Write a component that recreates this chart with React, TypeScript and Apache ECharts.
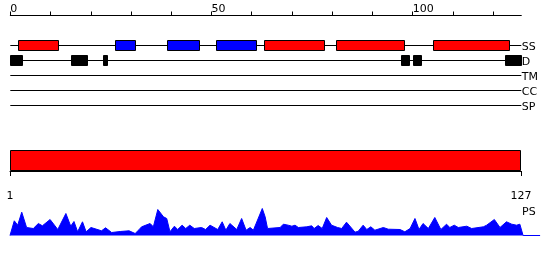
import React, { useEffect, useRef } from 'react';
import * as echarts from 'echarts';

const seqLength = 127;
const topTickValues = [0, 10, 20, 30, 40, 50, 60, 70, 80, 90, 100, 110, 120];
const topLabelValues = [0, 50, 100];
const bottomTickValues = [1, 127];
const trackNames = ['SS', 'D', 'TM', 'CC', 'SP'];

// secondary structure: [start, end]
const helixSegments = [[2, 12], [63, 78], [81, 98], [105, 124]];
const strandSegments = [[26, 31], [39, 47], [51, 61]];
// disorder: [start, end]
const disorderSegments = [[0, 3], [15, 19], [23, 24], [97, 99], [100, 102], [123, 127]];
// domain: [start, end]
const domainSegments = [[1, 127]];

// PS profile (residue position, value)
const psPositions = [
  1.0, 2.06, 2.9, 3.9, 5.1, 6.75, 8.0, 9.0, 10.9, 12.8, 14.8, 16.0, 16.8, 17.7, 18.9, 19.8, 21.0,
  23.6, 24.6, 26.1, 28.2, 30.4, 31.9, 32.9, 33.5, 35.6, 36.4, 37.5, 38.9, 39.7, 40.5, 41.6, 42.4,
  43.5, 44.4, 45.4, 46.5, 48.3, 49.3, 50.4, 52.3, 53.4, 54.3, 55.3, 57.0, 58.2, 59.3, 60.3, 61.1,
  63.3, 64.0, 64.6, 67.7, 68.5, 69.7, 70.6, 71.4, 72.2, 74.3, 75.5, 76.1, 77.1, 78.1, 79.2, 80.4,
  81.9, 82.9, 84.1, 86.2, 87.0, 88.2, 89.1, 90.1, 91.1, 93.2, 94.4, 97.3, 98.5, 99.8, 101.0, 102.0,
  103.0, 104.3, 105.9, 107.4, 108.8, 109.6, 110.7, 111.7, 113.8, 115.0, 117.9, 118.7, 120.6, 122.0,
  123.6, 124.9, 126.1, 126.9, 127.7, 131.9,
];
const psValues = [
  0, 14.7, 10.3, 23.3, 8, 7, 12, 9.7, 16, 6, 22, 9.3, 14, 3.7, 13.7, 3.7, 8,
  4.7, 7.7, 3, 4, 4.7, 2, 6, 8.7, 12, 8.7, 26, 18.7, 17, 3.7, 9.3, 6,
  10.3, 7, 10.3, 7, 8, 6, 10.3, 6, 13.7, 5.3, 12, 6, 17, 5.3, 8, 5.3,
  27, 18.7, 7, 8, 11.3, 10.3, 9.3, 10.3, 8, 8.7, 9.7, 7, 10, 7, 18, 10.3,
  8, 7, 13.3, 3.3, 4.3, 10.3, 6, 8.7, 5.3, 8, 6.3, 6, 3.7, 7, 17, 6,
  12, 7, 18, 6, 11.3, 8, 10.3, 8, 9.3, 7, 8.7, 10.3, 16, 8,
  13.7, 11.3, 10.3, 11.3, 0, 0,
];

const FONT = 'DejaVu Sans';
const RED = '#ff0000';
const BLUE = '#0000ff';

export default function App() {
  const ref = useRef<HTMLDivElement>(null);

  useEffect(() => {
    document.body.style.margin = '0';
    if (!ref.current) return;
    const chart = echarts.init(ref.current, null, { renderer: 'svg' });

    const boxH = 10;

    const segRender = (fill: string) => (params: any, api: any) => {
      const track = api.value(0);
      const s = api.value(1);
      const e = api.value(2);
      const p0 = api.coord([s, track]);
      const p1 = api.coord([e, track]);
      return {
        type: 'rect',
        shape: { x: Math.round(p0[0]) + 0.5, y: Math.round(p0[1]) - boxH / 2 - 0.5, width: Math.round(p1[0] - p0[0]), height: boxH },
        style: { fill, stroke: '#000', lineWidth: 1 },
      };
    };

    const option: any = {
      animation: false,
      textStyle: { fontFamily: FONT },
      grid: [
        { left: 10.3, width: 511, top: 38, height: 75 },
        { left: 10, width: 511, top: 150, height: 21 },
        { left: 10, width: 530.5, top: 205.5, height: 30 },
      ],
      xAxis: [
        {
          gridIndex: 0,
          type: 'value',
          position: 'top',
          offset: 22.5,
          min: 0,
          max: seqLength,
          splitLine: { show: false },
          axisLine: { show: true, lineStyle: { color: '#000', width: 1 } },
          axisTick: { show: true, length: 4, customValues: topTickValues, lineStyle: { color: '#000' } },
          axisLabel: {
            customValues: topLabelValues,
            align: 'left',
            margin: 2,
            fontSize: 11,
            color: '#000',
            fontFamily: FONT,
          },
        },
        {
          gridIndex: 1,
          type: 'value',
          position: 'bottom',
          offset: 9.5,
          min: 1,
          max: seqLength,
          splitLine: { show: false },
          axisLine: { show: true, lineStyle: { color: '#000', width: 1 } },
          axisTick: { show: true, length: 5, customValues: bottomTickValues, lineStyle: { color: '#000' } },
          axisLabel: {
            customValues: bottomTickValues,
            margin: 9,
            fontSize: 11,
            color: '#000',
            fontFamily: FONT,
          },
        },
        {
          gridIndex: 2,
          type: 'value',
          min: 1,
          max: 132,
          show: false,
        },
      ],
      yAxis: [
        { gridIndex: 0, type: 'category', data: trackNames, inverse: true, show: false },
        { gridIndex: 1, type: 'value', min: 0, max: 1, show: false },
        { gridIndex: 2, type: 'value', min: 0, max: 30, show: false },
      ],
      graphic: [
        {
          type: 'text',
          left: 522,
          top: 206,
          style: { text: 'PS', fontSize: 11, fontFamily: FONT, fill: '#000' },
        },
      ],
      series: [
        {
          type: 'custom',
          xAxisIndex: 0,
          yAxisIndex: 0,
          data: trackNames.map((_, i) => [i, 0, seqLength]),
          encode: { x: [1, 2], y: 0 },
          renderItem: (params: any, api: any) => {
            const i = api.value(0);
            const p0 = api.coord([api.value(1), i]);
            const p1 = api.coord([api.value(2), i]);
            const y = Math.round(p0[1]) - 0.5;
            return {
              type: 'group',
              children: [
                {
                  type: 'line',
                  shape: { x1: p0[0], y1: y, x2: p1[0], y2: y },
                  style: { stroke: '#000', lineWidth: 1 },
                },
                {
                  type: 'text',
                  x: p1[0] + 0.5,
                  y: y + 0.5,
                  style: {
                    text: trackNames[i],
                    fontSize: 11,
                    fontFamily: FONT,
                    fill: '#000',
                    align: 'left',
                    verticalAlign: 'middle',
                  },
                },
              ],
            };
          },
        },
        {
          type: 'custom',
          xAxisIndex: 0,
          yAxisIndex: 0,
          data: helixSegments.map((s) => [0, s[0], s[1]]),
          encode: { x: [1, 2], y: 0 },
          renderItem: segRender(RED),
        },
        {
          type: 'custom',
          xAxisIndex: 0,
          yAxisIndex: 0,
          data: strandSegments.map((s) => [0, s[0], s[1]]),
          encode: { x: [1, 2], y: 0 },
          renderItem: segRender(BLUE),
        },
        {
          type: 'custom',
          xAxisIndex: 0,
          yAxisIndex: 0,
          data: disorderSegments.map((s) => [1, s[0], s[1]]),
          encode: { x: [1, 2], y: 0 },
          renderItem: segRender('#000'),
        },
        {
          type: 'custom',
          xAxisIndex: 1,
          yAxisIndex: 1,
          data: domainSegments.map((s) => [s[0], s[1]]),
          encode: { x: [0, 1] },
          renderItem: (params: any, api: any) => {
            const p0 = api.coord([api.value(0), 1]);
            const p1 = api.coord([api.value(1), 0]);
            return {
              type: 'rect',
              shape: {
                x: Math.round(p0[0]) + 0.5,
                y: Math.round(p0[1]) + 0.5,
                width: Math.round(p1[0] - p0[0]) - 1,
                height: Math.round(p1[1] - p0[1]) - 1,
              },
              style: { fill: RED, stroke: '#000', lineWidth: 1 },
            };
          },
        },
        {
          type: 'line',
          xAxisIndex: 2,
          yAxisIndex: 2,
          data: psPositions.map((p, i) => [p, psValues[i]]),
          showSymbol: false,
          symbol: 'none',
          lineStyle: { color: BLUE, width: 1 },
          areaStyle: { color: BLUE, opacity: 1 },
          itemStyle: { color: BLUE },
        },
      ],
    };

    chart.setOption(option);
    return () => chart.dispose();
  }, []);

  return (
    <div
      ref={ref}
      style={{ position: 'fixed', left: 0, top: 0, width: 550, height: 260 }}
    />
  );
}
